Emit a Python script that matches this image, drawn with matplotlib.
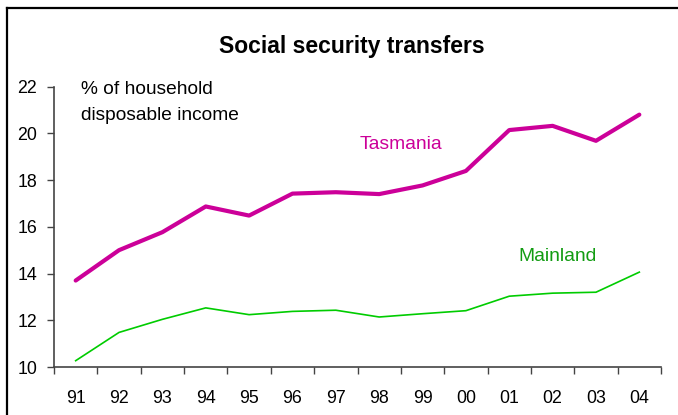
import matplotlib
matplotlib.use("Agg")
import matplotlib.pyplot as plt
from matplotlib.lines import Line2D
import numpy as np

years = ["91", "92", "93", "94", "95", "96", "97", "98", "99", "00", "01", "02", "03", "04"]
tasmania = [13.7, 15.0, 15.77, 16.87, 16.48, 17.42, 17.48, 17.40, 17.77, 18.39, 20.14, 20.32, 19.68, 20.80]
mainland = [10.27, 11.48, 12.04, 12.53, 12.24, 12.38, 12.43, 12.14, 12.28, 12.41, 13.03, 13.16, 13.20, 14.06]

plt.rcParams['font.family'] = ['Liberation Sans', 'DejaVu Sans']

W, H = 678, 415
fig = plt.figure(figsize=(W / 100, H / 100), dpi=100)
ax = fig.add_axes([54 / W, 1 - 367 / H, (661 - 54) / W, (367 - 86.6) / H])

x = np.arange(len(years))
ax.plot(x, tasmania, color="#CC0099", lw=3.0, solid_joinstyle="round", solid_capstyle="round")
ax.plot(x, mainland, color="#00CC00", lw=1.2)

ax.set_xlim(-0.5, len(years) - 0.5)
ax.set_ylim(10, 22)
ax.set_yticks(np.arange(10, 23, 2))
ax.set_xticks(np.arange(-0.5, len(years), 1.0))
ax.set_xticklabels([])
ax.set_xticks(x, minor=True)
ax.set_xticklabels(years, minor=True)
ax.tick_params(axis="x", which="minor", length=0, pad=16.5, labelsize=12.8)
ax.tick_params(axis="x", which="major", length=5, width=1, color="#444444", direction="out")
ax.tick_params(axis="y", length=5, width=1, color="#444444", direction="out", pad=7, labelsize=12.8)

for s in ["top", "right"]:
    ax.spines[s].set_visible(False)
for s in ["left", "bottom"]:
    ax.spines[s].set_color("#444444")
    ax.spines[s].set_linewidth(1.2)

fig.text(352 / W, 1 - 46 / H, "Social security transfers", ha="center", va="center",
         fontsize=16.5, fontweight="bold")
fig.text(81 / W, 1 - 90 / H, "% of household", ha="left", va="center", fontsize=13.8)
fig.text(81 / W, 1 - 115 / H, "disposable income", ha="left", va="center", fontsize=13.8)
fig.text(401 / W, 1 - 144 / H, "Tasmania", ha="center", va="center", fontsize=13.9, color="#CC0099")
fig.text(558 / W, 1 - 256 / H, "Mainland", ha="center", va="center", fontsize=13.9, color="#129C12")

# partial outer frame (top and left)
fig.add_artist(Line2D([7 / W, 7 / W], [0, 1 - 8 / H], transform=fig.transFigure, color="black", lw=1.6))
fig.add_artist(Line2D([7 / W, 1], [1 - 8 / H, 1 - 8 / H], transform=fig.transFigure, color="black", lw=1.6))

fig.savefig("out.png", dpi=100)
